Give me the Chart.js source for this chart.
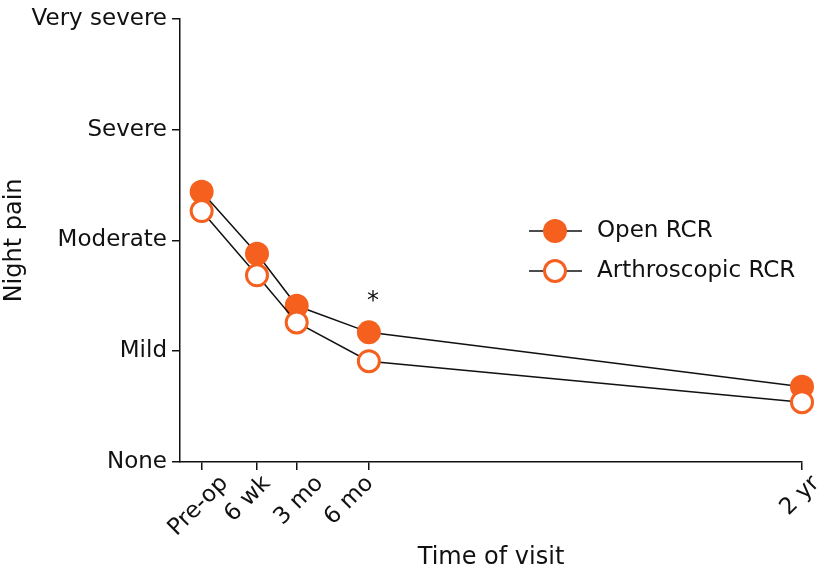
<!DOCTYPE html>
<html>
<head>
<meta charset="utf-8">
<script src="https://cdn.jsdelivr.net/npm/chart.js@4/dist/chart.umd.min.js"></script>
<style>
html,body{margin:0;padding:0;background:#fff;}
#wrap{width:819px;height:570px;}
</style>
</head>
<body>
<div id="wrap"><canvas id="c" width="819" height="570"></canvas></div>
<script>
const visitLabels = ['Pre-op', '6 wk', '3 mo', '6 mo', '2 yr'];
const visitPositions = [-0.95, 1.35, 3, 6, 24];
const openRCR = [2.44, 1.88, 1.41, 1.17, 0.68];
const arthroRCR = [2.265, 1.685, 1.26, 0.91, 0.54];
const painLabels = ['None', 'Mild', 'Moderate', 'Severe', 'Very severe'];
const seriesNames = ['Open RCR', 'Arthroscopic RCR'];
const significantVisit = 3; // index with asterisk

// style: small horizontal nudges of the rotated x labels (as in the original artwork)
const labelNudge = [5, -8, 5, -17, -4];

const ORANGE = '#F5601E';
const FONT = 'DejaVu Sans';

function pts(vals){ return vals.map((v,i)=>({x: visitPositions[i], y: v})); }

const customPlugin = {
  id: 'custom',
  afterDraw(chart){
    const ctx = chart.ctx;
    const xs = chart.scales.x, ys = chart.scales.y;
    ctx.save();
    ctx.fillStyle = '#111';
    ctx.font = '23px "' + FONT + '"';
    visitLabels.forEach((lab,i)=>{
      const px = xs.getPixelForValue(visitPositions[i]);
      ctx.save();
      ctx.translate(px + 18 + labelNudge[i], ys.bottom + 18);
      ctx.rotate(-Math.PI/4);
      ctx.textAlign = 'right';
      ctx.textBaseline = 'middle';
      ctx.fillText(lab, 0, 0);
      ctx.restore();
    });
    // asterisk
    ctx.textAlign = 'center';
    ctx.textBaseline = 'middle';
    ctx.font = '24px "' + FONT + '"';
    ctx.fillText('*', xs.getPixelForValue(visitPositions[significantVisit]) + 4, ys.getPixelForValue(openRCR[significantVisit]) - 31);
    // legend (order: Open, Arthroscopic)
    const legY = [231, 271];
    seriesNames.forEach((name, i)=>{
      const ds = chart.data.datasets.find(d => d.label === name);
      const y = legY[i];
      ctx.strokeStyle = '#111';
      ctx.lineWidth = 1.5;
      ctx.beginPath(); ctx.moveTo(529, y); ctx.lineTo(582, y); ctx.stroke();
      ctx.beginPath();
      ctx.arc(555, y, ds.pointRadius, 0, Math.PI*2);
      ctx.fillStyle = ds.pointBackgroundColor;
      ctx.fill();
      if (ds.pointBorderWidth > 0){
        ctx.lineWidth = ds.pointBorderWidth;
        ctx.strokeStyle = ds.pointBorderColor;
        ctx.stroke();
      }
      ctx.fillStyle = '#111';
      ctx.font = '23px "' + FONT + '"';
      ctx.textAlign = 'left';
      ctx.textBaseline = 'middle';
      ctx.fillText(ds.label, 597, y);
    });
    ctx.restore();
  }
};

new Chart(document.getElementById('c'), {
  type: 'line',
  data: {
    datasets: [
      {
        label: seriesNames[1],
        data: pts(arthroRCR),
        borderColor: '#111',
        borderWidth: 1.5,
        pointRadius: 10.5,
        pointBorderWidth: 3,
        pointBorderColor: ORANGE,
        pointBackgroundColor: '#ffffff',
        clip: false,
        order: 1
      },
      {
        label: seriesNames[0],
        data: pts(openRCR),
        borderColor: '#111',
        borderWidth: 1.5,
        pointRadius: 12,
        pointBorderWidth: 0,
        pointBorderColor: ORANGE,
        pointBackgroundColor: ORANGE,
        clip: false,
        order: 2
      }
    ]
  },
  options: {
    responsive: false,
    animation: false,
    devicePixelRatio: 1,
    layout: { padding: { left: 0, right: 17, top: 14, bottom: 0 } },
    plugins: { legend: { display: false }, tooltip: { enabled: false } },
    scales: {
      x: {
        type: 'linear',
        min: -1.85,
        max: 24,
        afterFit(s){ s.height = 108; },
        afterBuildTicks(s){ s.ticks = visitPositions.map(v=>({value: v})); },
        ticks: { autoSkip: false, callback: () => '', maxRotation: 0, padding: 0 },
        grid: { display: true, drawOnChartArea: false, drawTicks: true, tickLength: 8, color: '#111', lineWidth: 1.5 },
        border: { display: true, color: '#111', width: 1.5 },
        title: { display: true, text: 'Time of visit', color: '#111', font: { family: FONT, size: 24 }, padding: { top: 0, bottom: -2 } }
      },
      y: {
        min: 0,
        max: 4,
        afterFit(s){ s.width = 180; },
        ticks: {
          stepSize: 1,
          color: '#111',
          padding: 5,
          font: { family: FONT, size: 23 },
          callback: (v) => painLabels[v] ?? ''
        },
        grid: { display: true, drawOnChartArea: false, drawTicks: true, tickLength: 8, color: '#111', lineWidth: 1.5 },
        border: { display: true, color: '#111', width: 1.5 },
        title: { display: true, text: 'Night pain', color: '#111', font: { family: FONT, size: 24 }, padding: 0 }
      }
    }
  },
  plugins: [customPlugin]
});
</script>
</body>
</html>
